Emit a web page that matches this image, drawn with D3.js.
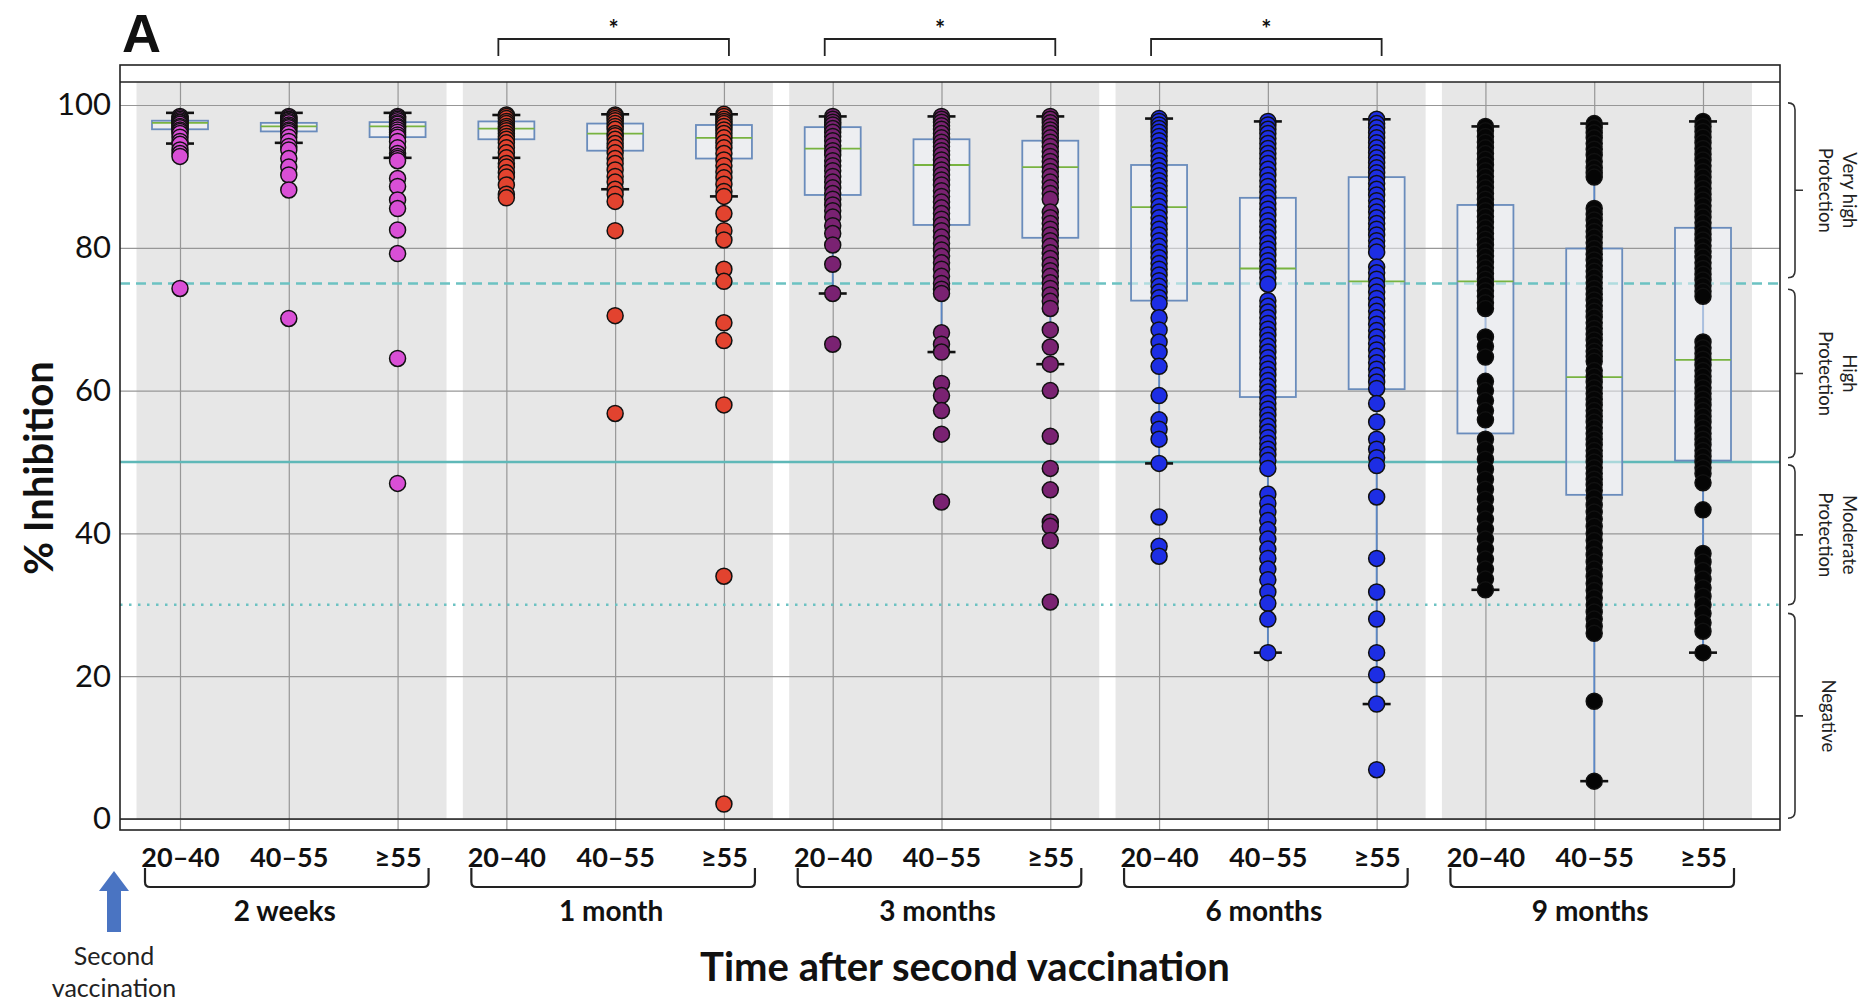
<!DOCTYPE html>
<html>
<head>
<meta charset="utf-8">
<script src="https://cdn.jsdelivr.net/npm/d3@7"></script>
<style>
  html, body { margin: 0; padding: 0; background: #fff; }
  svg { display: block; font-family: Lato, "Open Sans", sans-serif; }
</style>
</head>
<body>
<svg id="chart" width="1868" height="1002"></svg>
<script>
// ---- categories ----
const ageGroups = ["20–40", "40–55", "≥55"];
const timepoints = ["2 weeks", "1 month", "3 months", "6 months", "9 months"];
const timepointColors = ["#d94fd6", "#e2432f", "#7a2272", "#1d2ee4", "#050505"];
const yTicks = [0, 20, 40, 60, 80, 100];
const significantTimepoints = ["1 month", "3 months", "6 months"];

// protection thresholds (% inhibition)
const thresholdVeryHigh = 75;
const thresholdHigh = 50;
const thresholdModerate = 30;

// protection classes shown at the right side
const protectionLabels = [["Very high", "Protection"], ["High", "Protection"], ["Moderate", "Protection"], ["Negative"]];
const protectionTop = [100.3, 74.2, 49.6, 28.8];
const protectionBottom = [75.8, 50.6, 30.0, 0.1];

// box summaries, ordered timepoint by timepoint, age groups within
const boxQ1 = [96.6, 96.3, 95.5, 95.2, 93.6, 92.5, 87.4, 83.2, 81.4, 72.6, 59.1, 60.2, 54.0, 45.4, 50.2];
const boxMedian = [97.5, 97.0, 97.0, 96.7, 96.0, 95.4, 93.9, 91.6, 91.3, 85.7, 77.1, 75.3, 75.3, 61.9, 64.3];
const boxQ3 = [97.8, 97.5, 97.6, 97.7, 97.4, 97.2, 96.9, 95.2, 95.0, 91.6, 87.0, 89.9, 86.0, 79.9, 82.8];
const whiskerLow = [94.6, 94.7, 92.6, 92.6, 88.2, 87.2, 73.6, 65.4, 63.7, 49.8, 23.3, 16.1, 32.1, 5.3, 23.3];
const whiskerHigh = [98.9, 98.9, 98.9, 98.6, 98.7, 98.7, 98.4, 98.4, 98.4, 98.1, 97.7, 98.0, 97.0, 97.4, 97.7];

// individual % inhibition values
const weeks2Age20to40 = [98.4, 98.2, 98.0, 97.8, 97.6, 97.5, 97.3, 97.0, 96.8, 96.5, 96.3, 96.0, 95.5, 94.9, 94.5, 93.7, 93.2, 92.8, 74.3];
const weeks2Age40to55 = [98.4, 98.2, 98.0, 97.9, 97.7, 97.5, 97.2, 97.0, 96.8, 96.5, 96.3, 96.0, 95.5, 94.9, 94.2, 93.7, 92.5, 91.3, 90.2, 88.1, 70.1];
const weeks2Age55plus = [98.4, 98.2, 98.0, 97.8, 97.5, 97.3, 97.0, 96.8, 96.5, 96.2, 95.8, 95.5, 94.9, 94.0, 93.2, 92.8, 92.5, 92.2, 89.7, 88.6, 86.7, 85.5, 82.5, 79.2, 64.5, 47.0];

const month1Age20to40 = [98.6, 98.4, 98.1, 97.7, 97.4, 97.0, 96.7, 96.4, 96.0, 95.6, 95.2, 94.7, 94.0, 93.3, 92.6, 91.8, 91.3, 90.5, 89.9, 88.8, 87.5, 87.0];
const month1Age40to55 = [98.6, 98.4, 98.1, 97.8, 97.4, 97.0, 96.6, 96.0, 95.7, 95.2, 94.6, 94.0, 93.3, 92.5, 91.8, 90.9, 90.0, 89.2, 88.2, 87.5, 86.5, 82.4, 70.5, 56.8];
const month1Age55plus = [98.7, 98.4, 98.0, 97.7, 97.4, 97.0, 96.5, 96.0, 95.4, 94.7, 94.0, 93.2, 92.3, 91.5, 90.6, 89.8, 88.9, 87.9, 87.2, 84.8, 82.4, 81.1, 77.0, 75.3, 69.5, 67.0, 58.0, 34.0, 2.1];

const month3Age20to40 = [98.4, 98.0, 97.6, 97.2, 96.7, 96.2, 95.6, 95.0, 94.3, 93.6, 93.0, 92.2, 91.5, 90.8, 90.0, 89.2, 88.4, 87.6, 86.8, 86.0, 85.2, 84.3, 83.1, 82.0, 80.4, 77.7, 73.6, 66.5];
const month3Age40to55 = [98.4, 98.0, 97.6, 97.1, 96.6, 96.0, 95.4, 94.8, 94.2, 93.6, 93.0, 92.3, 91.6, 90.9, 90.2, 89.5, 88.8, 88.0, 87.2, 86.4, 85.6, 84.8, 84.0, 83.2, 82.4, 81.5, 80.6, 79.7, 78.8, 77.9, 77.0, 76.0, 75.0, 74.2, 73.6, 68.1, 66.5, 65.4, 61.0, 59.3, 57.2, 53.9, 44.4];
const month3Age55plus = [98.4, 98.0, 97.5, 97.0, 96.5, 96.0, 95.4, 94.8, 94.2, 93.5, 92.8, 92.1, 91.4, 90.7, 90.0, 89.2, 88.4, 87.6, 86.8, 85.0, 84.2, 83.4, 82.6, 81.8, 81.0, 80.2, 79.3, 78.5, 77.6, 76.8, 76.0, 75.1, 74.3, 73.4, 72.5, 71.5, 68.5, 66.1, 63.7, 60.0, 53.6, 49.1, 46.1, 41.6, 41.0, 39.0, 30.4];

const month6Age20to40 = [98.1, 97.7, 97.2, 96.7, 96.2, 95.6, 95.0, 94.3, 93.6, 92.9, 92.2, 91.5, 90.8, 90.1, 89.4, 88.7, 88.0, 87.3, 86.6, 85.8, 85.0, 84.2, 83.4, 82.6, 81.8, 81.0, 80.2, 79.4, 78.6, 77.8, 77.0, 76.2, 75.4, 74.6, 73.8, 73.0, 72.2, 70.2, 68.5, 66.8, 65.4, 63.4, 59.3, 55.9, 54.6, 53.2, 49.8, 42.3, 38.2, 36.8];
const month6Age40to55 = [97.7, 97.2, 96.6, 96.0, 95.3, 94.6, 93.9, 93.2, 92.5, 91.8, 91.0, 90.2, 89.4, 88.6, 87.8, 87.0, 86.2, 85.4, 84.6, 83.8, 83.0, 82.2, 81.4, 80.6, 79.8, 79.0, 78.2, 77.4, 76.6, 75.8, 74.9,
  72.6, 71.8, 71.0, 70.2, 69.4, 68.6, 67.8, 67.0, 66.2, 65.4, 64.6, 63.8, 63.0, 62.2, 61.4, 60.6, 59.8, 59.0, 58.2, 57.4, 56.6, 55.8, 55.0, 54.2, 53.4, 52.6, 51.8, 51.0, 50.2, 49.1,
  45.5, 44.2, 43.0, 41.8, 40.5, 39.2, 37.8, 36.5, 35.0, 33.5, 31.8, 30.2, 28.0, 23.3];
const month6Age55plus = [98.0, 97.4, 96.8, 96.1, 95.4, 94.7, 94.0, 93.3, 92.6, 91.9, 91.2, 90.5, 89.8, 89.0, 88.2, 87.4, 86.6, 85.8, 85.0, 84.2, 83.4, 82.6, 81.8, 81.0, 80.2, 79.4,
  77.3, 76.5, 75.6, 74.7, 73.8, 72.9, 72.0, 71.1, 70.2, 69.3, 68.4, 67.5, 66.6, 65.7, 64.8, 63.9, 63.0, 62.1, 61.2, 60.3, 58.2, 55.6, 53.2, 51.8, 50.6, 49.5,
  45.1, 36.5, 31.8, 28.0, 23.3, 20.2, 16.1, 6.9];

const month9Age20to40 = [97.0, 96.4, 95.6, 94.8, 94.0, 93.2, 92.4, 91.6, 90.8, 90.0, 89.2, 88.4, 87.6, 86.8, 86.0, 85.2, 84.4, 83.6, 82.8, 82.0, 81.2, 80.4, 79.6, 78.8, 78.0, 77.2, 76.4, 75.6, 74.8, 74.0, 73.2, 72.3, 71.5,
  67.5, 66.2, 64.7, 61.3, 60.0, 58.6, 57.2, 55.9,
  53.2, 51.8, 50.4, 49.0, 47.6, 46.2, 44.8, 43.4, 42.0, 40.6, 39.2, 37.8, 36.4, 35.0, 33.6, 32.1];
const month9Age40to55 = [97.4, 96.8, 96.1, 95.4, 94.6, 93.8, 93.0, 92.1, 91.2, 90.5, 89.9,
  85.5, 84.7, 83.9, 83.1, 82.3, 81.5, 80.7, 79.9, 79.1, 78.3, 77.5, 76.7, 75.9, 75.1, 74.3, 73.5, 72.7, 71.9, 71.1, 70.3, 69.5, 68.7, 67.9, 67.1, 66.3, 65.5, 64.8, 64.1,
  62.8, 62.0, 61.2, 60.4, 59.6, 58.8, 58.0, 57.2, 56.4, 55.6, 54.8, 54.0, 53.2, 52.4, 51.6, 50.8, 50.0, 49.2, 48.4, 47.6, 46.8, 46.0, 45.0, 44.0, 43.0, 42.0, 41.0, 40.0, 39.0, 38.0, 37.0, 36.0, 35.0, 34.0, 33.0, 32.0, 31.0, 30.0, 29.0, 28.0, 27.0, 26.0,
  16.5, 5.3];
const month9Age55plus = [97.7, 97.0, 96.3, 95.5, 94.7, 93.9, 93.1, 92.3, 91.5, 90.7, 89.9, 89.1, 88.3, 87.5, 86.7, 85.9, 85.1, 84.3, 83.5, 82.7, 81.9, 81.1, 80.3, 79.5, 78.7, 77.9, 77.1, 76.3, 75.5, 74.7, 73.9, 73.2,
  66.8, 66.0, 65.2, 64.4, 63.6, 62.8, 62.0, 61.2, 60.4, 59.6, 58.8, 58.0, 57.2, 56.4, 55.6, 54.8, 54.0, 53.2, 52.4, 51.6, 50.8, 50.0, 49.2, 48.4, 47.1,
  43.3, 37.2, 36.0, 34.8, 33.6, 32.4, 31.2, 30.0, 28.8, 27.5, 26.3, 23.3];

const sampleValues = [
  weeks2Age20to40, weeks2Age40to55, weeks2Age55plus,
  month1Age20to40, month1Age40to55, month1Age55plus,
  month3Age20to40, month3Age40to55, month3Age55plus,
  month6Age20to40, month6Age40to55, month6Age55plus,
  month9Age20to40, month9Age40to55, month9Age55plus
];

// ---- assemble per-category records ----
const groups = [];
timepoints.forEach((t, ti) => {
  ageGroups.forEach((a, ai) => {
    const i = ti * ageGroups.length + ai;
    groups.push({
      key: t + "|" + a, time: t, age: a, color: timepointColors[ti],
      q1: boxQ1[i], median: boxMedian[i], q3: boxQ3[i],
      lo: whiskerLow[i], hi: whiskerHigh[i], values: sampleValues[i]
    });
  });
});

// ---- layout ----
const frameLeft = 120, frameRight = 1780, frameTop = 65, innerTop = 82, frameBottom = 830;
const svg = d3.select("#chart");

const x = d3.scalePoint().domain(groups.map(d => d.key)).range([180, 1703]);
const y = d3.scaleLinear().domain([0, 100]).range([819, 105]);
const step = x.step();

// grey background bands, one per timepoint
svg.append("g").selectAll("rect").data(timepoints).join("rect")
  .attr("x", t => x(t + "|" + ageGroups[0]) - 0.4 * step)
  .attr("width", t => x(t + "|" + ageGroups[2]) - x(t + "|" + ageGroups[0]) + 0.85 * step)
  .attr("y", innerTop).attr("height", y(0) - innerTop)
  .attr("fill", "#e7e7e7");

// horizontal grid + y labels
const yAxis = svg.append("g").attr("transform", `translate(${frameLeft},0)`)
  .call(d3.axisLeft(y).tickValues(yTicks).tickSizeInner(-(frameRight - frameLeft)).tickSizeOuter(0).tickPadding(9));
yAxis.select(".domain").remove();
yAxis.selectAll(".tick line").attr("stroke", "#979797").attr("stroke-width", 1.2);
yAxis.selectAll(".tick text").attr("font-size", 31).attr("fill", "#111").attr("font-family", "Lato, sans-serif");

// vertical grid + age-group labels
const xAxis = svg.append("g").attr("transform", `translate(0,${frameBottom})`)
  .call(d3.axisBottom(x).tickSizeInner(-(frameBottom - innerTop)).tickSizeOuter(0).tickPadding(18)
    .tickFormat(k => k.split("|")[1]));
xAxis.select(".domain").remove();
xAxis.selectAll(".tick line").attr("stroke", "#979797").attr("stroke-width", 1.2);
xAxis.selectAll(".tick text").attr("font-size", 27).attr("font-weight", 700).attr("fill", "#111")
  .attr("font-family", "Lato, sans-serif");

// protection threshold lines
const refLines = svg.append("g").attr("stroke", "#6cc2c2");
refLines.append("line").attr("x1", frameLeft).attr("x2", frameRight)
  .attr("y1", y(thresholdVeryHigh)).attr("y2", y(thresholdVeryHigh))
  .attr("stroke-width", 2.6).attr("stroke-dasharray", "10,6");
refLines.append("line").attr("x1", frameLeft).attr("x2", frameRight)
  .attr("y1", y(thresholdHigh)).attr("y2", y(thresholdHigh))
  .attr("stroke-width", 2.4).attr("stroke", "#5fb8b8");
refLines.append("line").attr("x1", frameLeft).attr("x2", frameRight)
  .attr("y1", y(thresholdModerate)).attr("y2", y(thresholdModerate))
  .attr("stroke-width", 2.6).attr("stroke-dasharray", "2.5,6.5");

// frame
const frame = svg.append("g").attr("stroke", "#222").attr("stroke-width", 1.6).attr("fill", "none");
frame.append("rect").attr("x", frameLeft).attr("y", frameTop)
  .attr("width", frameRight - frameLeft).attr("height", frameBottom - frameTop);
frame.append("line").attr("x1", frameLeft).attr("x2", frameRight).attr("y1", innerTop).attr("y2", innerTop);
frame.append("line").attr("x1", frameLeft).attr("x2", frameRight).attr("y1", y(0)).attr("y2", y(0));

// box plots
const boxHalf = 28, capHalf = 14;
const box = svg.append("g").selectAll("g").data(groups).join("g")
  .attr("transform", d => `translate(${x(d.key)},0)`);
box.append("line").attr("y1", d => y(d.lo)).attr("y2", d => y(d.hi))
  .attr("stroke", "#5b87c5").attr("stroke-width", 1.8);
box.append("rect").attr("x", -boxHalf).attr("width", 2 * boxHalf)
  .attr("y", d => y(d.q3)).attr("height", d => y(d.q1) - y(d.q3))
  .attr("fill", "#f4f6fb").attr("fill-opacity", 0.5)
  .attr("stroke", "#6a8cbc").attr("stroke-width", 1.8);
box.append("line").attr("x1", -boxHalf).attr("x2", boxHalf)
  .attr("y1", d => y(d.median)).attr("y2", d => y(d.median))
  .attr("stroke", "#78b341").attr("stroke-width", 1.8);
box.selectAll("line.cap").data(d => [d.lo, d.hi]).join("line").attr("class", "cap")
  .attr("x1", -capHalf).attr("x2", capHalf).attr("y1", v => y(v)).attr("y2", v => y(v))
  .attr("stroke", "#111").attr("stroke-width", 2.6);

// individual values
box.selectAll("circle").data(d => d.values.map(v => ({ v, color: d.color }))).join("circle")
  .attr("cx", 0).attr("cy", p => y(p.v)).attr("r", 8)
  .attr("fill", p => p.color).attr("stroke", "#111").attr("stroke-width", 1.5);

// timepoint brackets and labels under the axis
const under = svg.append("g");
timepoints.forEach(t => {
  const x0 = x(t + "|" + ageGroups[0]) - 35;
  const x1 = x(t + "|" + ageGroups[2]) + 31;
  under.append("path")
    .attr("d", `M${x0},868 V882 Q${x0},887 ${x0 + 5},887 H${x1 - 5} Q${x1},887 ${x1},882 V868`)
    .attr("fill", "none").attr("stroke", "#222").attr("stroke-width", 2.2);
  under.append("text").attr("x", x(t + "|" + ageGroups[1]) - 4).attr("y", 921)
    .attr("text-anchor", "middle").attr("font-size", 28).attr("font-weight", 700).attr("fill", "#111")
    .text(t);
});

// significance markers above selected timepoints
const sig = svg.append("g");
significantTimepoints.forEach(t => {
  const x0 = x(t + "|" + ageGroups[0]) - 8;
  const x1 = x(t + "|" + ageGroups[2]) + 5;
  sig.append("path").attr("d", `M${x0},56 V39 H${x1} V56`)
    .attr("fill", "none").attr("stroke", "#222").attr("stroke-width", 1.8);
  sig.append("text").attr("x", (x0 + x1) / 2).attr("y", 38).attr("text-anchor", "middle")
    .attr("font-size", 24).attr("font-weight", 700).attr("fill", "#111").text("*");
});

// protection class braces at the right
const braceX = 1795;
const side = svg.append("g");
protectionLabels.forEach((lines, i) => {
  const yt = y(protectionTop[i]), yb = y(protectionBottom[i]), ym = (yt + yb) / 2;
  side.append("path")
    .attr("d", `M${braceX - 7},${yt} Q${braceX},${yt} ${braceX},${yt + 7} V${yb - 7} Q${braceX},${yb} ${braceX - 7},${yb} M${braceX},${ym} H${braceX + 8}`)
    .attr("fill", "none").attr("stroke", "#333").attr("stroke-width", 1.6);
  const cols = lines.length === 2 ? [1850, 1826] : [1829];
  lines.forEach((s, j) => {
    side.append("text").attr("transform", `translate(${cols[j]},${ym}) rotate(90)`)
      .attr("text-anchor", "middle").attr("dominant-baseline", "central")
      .attr("font-size", 18.5).attr("fill", "#222").text(s);
  });
});

// panel letter, axis titles
svg.append("text").attr("x", 122).attr("y", 52).attr("font-family", "'Liberation Sans', Arial, sans-serif")
  .attr("font-size", 54).attr("font-weight", 700).attr("fill", "#111").text("A");
svg.append("text").attr("transform", "translate(38,468) rotate(-90)")
  .attr("text-anchor", "middle").attr("dominant-baseline", "central")
  .attr("font-size", 40).attr("font-weight", 700).attr("fill", "#111").text("% Inhibition");
svg.append("text").attr("x", 965).attr("y", 981).attr("text-anchor", "middle")
  .attr("font-size", 40).attr("font-weight", 700).attr("fill", "#111").text("Time after second vaccination");

// second-dose marker
const arrowColor = "#4a74c2";
svg.append("path").attr("d", "M114,871 L129,891 L121,891 L121,932 L107,932 L107,891 L99,891 Z")
  .attr("fill", arrowColor);
svg.append("text").attr("x", 114).attr("y", 965).attr("text-anchor", "middle")
  .attr("font-size", 25).attr("fill", "#222").text("Second");
svg.append("text").attr("x", 114).attr("y", 997).attr("text-anchor", "middle")
  .attr("font-size", 25).attr("fill", "#222").text("vaccination");
</script>
</body>
</html>
